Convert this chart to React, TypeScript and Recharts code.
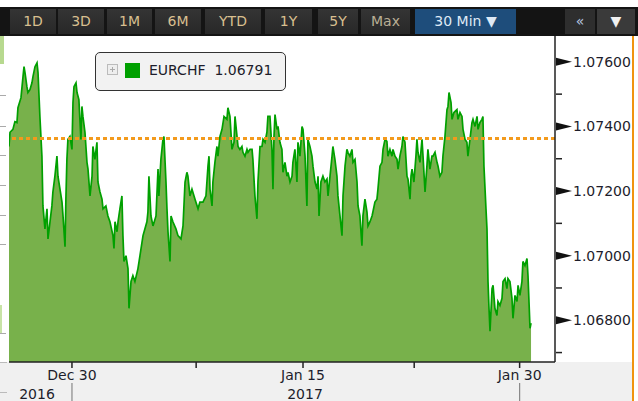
import React from "react";
import { ComposedChart, Area, XAxis, YAxis, ReferenceLine } from "recharts";

// Days since Dec 30 2016 00:00 (30-min EURCHF, sampled)
const dayOffset = [
  -4.36, -4.29, -4.09, -3.95, -3.81, -3.74, -3.53, -3.39, -3.32, -3.25, -3.12, -3.05, -2.91, -2.77, -2.7, -2.56, -2.42, -2.35,
  -2.22, -2.08, -2.01, -1.87, -1.73, -1.66, -1.52, -1.39, -1.32, -1.18, -1.04, -0.97, -0.83, -0.69, -0.62, -0.48, -0.42, -0.35,
  -0.28, -0.14, 0, 0.07, 0.14, 0.28, 0.35, 0.48, 0.62, 0.69, 0.76, 0.9, 1.04, 1.11, 1.25, 1.39, 1.45, 1.59, 1.73, 1.8, 1.94,
  2.08, 2.15, 2.35, 2.49, 2.63, 2.84, 2.91, 2.98, 3.12, 3.19, 3.32, 3.46, 3.53, 3.6, 3.74, 3.88, 3.95, 4.09, 4.22, 4.36, 4.57,
  4.71, 4.92, 5.19, 5.26, 5.33, 5.47, 5.61, 5.82, 5.96, 6.02, 6.16, 6.3, 6.37, 6.51, 6.58, 6.65, 6.79, 6.86, 6.99, 7.2, 7.34,
  7.55, 7.69, 7.83, 7.96, 8.03, 8.17, 8.31, 8.52, 8.73, 8.86, 9.07, 9.28, 9.42, 9.49, 9.56, 9.7, 9.76, 9.9, 10.04, 10.11,
  10.25, 10.39, 10.53, 10.73, 10.8, 10.94, 11.01, 11.08, 11.22, 11.29, 11.43, 11.5, 11.63, 11.77, 11.84, 11.98, 12.12, 12.19,
  12.33, 12.47, 12.53, 12.67, 12.81, 12.88, 13.02, 13.16, 13.23, 13.37, 13.5, 13.57, 13.71, 13.85, 13.92, 13.99, 14.06, 14.2,
  14.27, 14.4, 14.54, 14.61, 14.75, 14.89, 14.96, 15.1, 15.24, 15.3, 15.44, 15.58, 15.65, 15.79, 15.93, 16.0, 16.14, 16.27,
  16.34, 16.48, 16.62, 16.69, 16.83, 16.97, 17.04, 17.11, 17.24, 17.38, 17.52, 17.66, 17.73, 17.87, 18.01, 18.07, 18.21,
  18.35, 18.42, 18.56, 18.7, 18.77, 18.91, 19.04, 19.11, 19.25, 19.39, 19.46, 19.6, 19.74, 19.81, 19.94, 20.08, 20.15, 20.29,
  20.43, 20.5, 20.64, 20.78, 20.84, 20.98, 21.12, 21.19, 21.33, 21.47, 21.54, 21.68, 21.81, 21.88, 22.02, 22.16, 22.23,
  22.37, 22.51, 22.58, 22.71, 22.85, 22.92, 23.06, 23.2, 23.27, 23.41, 23.48, 23.55, 23.68, 23.82, 23.89, 23.96, 24.1, 24.24,
  24.31, 24.45, 24.58, 24.65, 24.79, 24.93, 25.0, 25.14, 25.28, 25.35, 25.48, 25.62, 25.69, 25.83, 25.97, 26.04, 26.11,
  26.25, 26.32, 26.45, 26.66, 26.73, 26.87, 27.01, 27.08, 27.22, 27.35, 27.42, 27.56, 27.7, 27.77, 27.91, 28.05, 28.12,
  28.25, 28.39, 28.46, 28.53, 28.67, 28.74, 28.81, 28.88, 28.95, 29.09, 29.16, 29.29, 29.43, 29.5, 29.64, 29.78, 29.85,
  29.99, 30.12, 30.19, 30.33, 30.47, 30.54, 30.68, 30.82, 30.89, 31.02, 31.16, 31.23, 31.37, 31.51, 31.58, 31.72, 31.79,
];

const eurchf = [
  1.07338, 1.07382, 1.07391, 1.07415, 1.07412, 1.07458, 1.07489, 1.07554, 1.07585, 1.07566, 1.07523, 1.07505, 1.07514,
  1.07535, 1.07554, 1.07585, 1.07597, 1.07566, 1.07431, 1.07308, 1.07154, 1.07083, 1.07145, 1.07052, 1.07105, 1.07154,
  1.07197, 1.07246, 1.07308, 1.07246, 1.07206, 1.07166, 1.07123, 1.07028, 1.07175, 1.07298, 1.0736, 1.07369, 1.07329,
  1.07474, 1.07523, 1.07535, 1.07505, 1.07483, 1.0736, 1.07462, 1.07431, 1.07382, 1.07289, 1.07268, 1.07185, 1.07246,
  1.07338, 1.07298, 1.07351, 1.07228, 1.07197, 1.07175, 1.07145, 1.07154, 1.07123, 1.07105, 1.07062, 1.07022, 1.07105,
  1.07074, 1.07105, 1.07145, 1.07185, 1.07062, 1.06982, 1.07, 1.0696, 1.06837, 1.0692, 1.06938, 1.0692, 1.0696, 1.07,
  1.07062, 1.07105, 1.07135, 1.07246, 1.07123, 1.07092, 1.07123, 1.07268, 1.07185, 1.07298, 1.0736, 1.07369, 1.07228,
  1.07145, 1.07074, 1.06982, 1.07123, 1.07105, 1.07083, 1.07062, 1.07052, 1.07092, 1.07228, 1.07258, 1.07246, 1.07185,
  1.07206, 1.07175, 1.07145, 1.07166, 1.07166, 1.07185, 1.07277, 1.07308, 1.07206, 1.07154, 1.07228, 1.07289, 1.07338,
  1.07308, 1.07369, 1.07391, 1.07431, 1.07422, 1.07458, 1.07431, 1.07382, 1.07329, 1.07351, 1.07431, 1.07369, 1.07338,
  1.07329, 1.07338, 1.0732, 1.07308, 1.07329, 1.0732, 1.07329, 1.07329, 1.07298, 1.07185, 1.07114, 1.07228, 1.07338,
  1.07338, 1.0736, 1.07351, 1.07382, 1.07431, 1.07431, 1.07329, 1.07206, 1.07369, 1.07437, 1.07391, 1.074, 1.07351,
  1.07329, 1.07258, 1.07289, 1.07246, 1.07258, 1.07228, 1.07246, 1.07289, 1.07329, 1.07228, 1.07351, 1.07308, 1.074,
  1.07391, 1.07308, 1.07154, 1.0736, 1.07338, 1.07308, 1.07277, 1.07228, 1.07206, 1.07246, 1.07123, 1.07228, 1.07246,
  1.07228, 1.07237, 1.07185, 1.07246, 1.07308, 1.07338, 1.07298, 1.07246, 1.07185, 1.07123, 1.07062, 1.07185, 1.07277,
  1.07329, 1.0732, 1.07308, 1.07329, 1.07289, 1.07298, 1.07228, 1.07154, 1.07123, 1.07031, 1.07123, 1.07175, 1.07135,
  1.07092, 1.07105, 1.07123, 1.07135, 1.07166, 1.07175, 1.07206, 1.07277, 1.07289, 1.07329, 1.0736, 1.07354, 1.07308,
  1.07329, 1.07308, 1.07329, 1.07308, 1.07298, 1.07268, 1.07308, 1.07338, 1.07369, 1.07351, 1.07246, 1.07237, 1.07175,
  1.07246, 1.07268, 1.07228, 1.07308, 1.0736, 1.0732, 1.07289, 1.0736, 1.07308, 1.07197, 1.07277, 1.07329, 1.07268,
  1.07308, 1.07308, 1.0732, 1.07289, 1.07277, 1.07246, 1.07258, 1.07308, 1.07369, 1.07452, 1.07462, 1.07505, 1.07474,
  1.07422, 1.07443, 1.07452, 1.07422, 1.07443, 1.07431, 1.07391, 1.0736, 1.07351, 1.07308, 1.0736, 1.07412, 1.07422,
  1.074, 1.07431, 1.07391, 1.07412, 1.07422, 1.07431, 1.07277, 1.07145, 1.07083, 1.0692, 1.06837, 1.06766, 1.06898,
  1.06908, 1.06837, 1.06815, 1.06858, 1.06846, 1.06868, 1.0692, 1.06929, 1.06898, 1.06929, 1.0692, 1.06868, 1.06806,
  1.06877, 1.06858, 1.06908, 1.06877, 1.0692, 1.06982, 1.06969, 1.06991, 1.06938, 1.06775, 1.06791,
];

const dateTickDays = [0, 8.6, 16, 23.7, 31];
const dateTickLabels = ["Dec 30", "", "Jan 15", "", "Jan 30"];
const yearLabelDays = [-2.42, 16.14];
const yearLabels = ["2016", "2017"];
const yearBreakDays = [0, 31];
const priceTicks = [1.067, 1.068, 1.069, 1.07, 1.071, 1.072, 1.073, 1.074, 1.075, 1.076];
const referencePrice = 1.07363;
const lastPrice = "1.06791";
const seriesName = "EURCHF";
const rangeButtons = ["1D", "3D", "1M", "6M", "YTD", "1Y", "5Y", "Max"];

const data = dayOffset.map((d, i) => ({ day: d, rate: eurchf[i] }));

const FONT = "'DejaVu Sans', Verdana, sans-serif";
const TXT = "#1d1d2b";

const YTick = (props: any) => {
  const { x, y, payload } = props;
  const v = payload.value as number;
  const major = Math.round(v * 1000) % 2 === 0;
  if (!major) {
    return <line x1={x + 1} x2={x + 7} y1={y} y2={y} stroke="#222" strokeWidth={1.5} />;
  }
  return (
    <g>
      <polygon points={`${x + 1},${y - 4} ${x + 1},${y + 4} ${x + 17},${y}`} fill="#111" />
      <text x={x + 18} y={y + 5} fontSize={14} fontFamily={FONT} fill={TXT}>
        {v.toFixed(5)}
      </text>
    </g>
  );
};

const XTick = (props: any) => {
  const { x, y, payload, index } = props;
  const idx = dateTickDays.indexOf(payload.value);
  const label = idx >= 0 ? dateTickLabels[idx] : "";
  return (
    <g>
      <line x1={x} x2={x} y1={y} y2={y + 6} stroke="#222" strokeWidth={1.5} />
      {label ? (
        <text x={x} y={y + 18} fontSize={14} fontFamily={FONT} fill={TXT} textAnchor="middle">
          {label}
        </text>
      ) : null}
    </g>
  );
};

const YearTick = (props: any) => {
  const { x, y, payload } = props;
  const li = yearLabelDays.indexOf(payload.value);
  if (li >= 0) {
    return (
      <text x={x} y={y + 17} fontSize={14} fontFamily={FONT} fill={TXT} textAnchor="middle">
        {yearLabels[li]}
      </text>
    );
  }
  return <line x1={x} x2={x} y1={y + 1} y2={y + 20} stroke="#888" strokeWidth={1.2} />;
};

const btnPos = [
  [10, 56],
  [58, 104],
  [107, 152],
  [155, 201],
  [205, 261],
  [265, 312],
  [318, 358],
  [361, 410],
];

export default function App() {
  return (
    <div
      style={{
        position: "absolute",
        left: 0,
        top: 0,
        width: 638,
        height: 401,
        overflow: "hidden",
        background: "#fff",
        fontFamily: FONT,
      }}
    >
      {/* bottom axis band */}
      <div style={{ position: "absolute", left: 0, top: 362, width: 633, height: 39, background: "#f0f0f0" }} />
      {/* left edge remnants */}
      <div style={{ position: "absolute", left: 0, top: 33, width: 4, height: 31, background: "#b7d98f" }} />
      <div style={{ position: "absolute", left: 0, top: 305, width: 2, height: 28, background: "#c8e3a6" }} />
      {[95, 126, 155, 185, 215, 244, 333].map((t) => (
        <div key={t} style={{ position: "absolute", left: 0, top: t, width: 6, height: 1, background: "#aaa" }} />
      ))}
      {[362, 392].map((t) => (
        <div key={t} style={{ position: "absolute", left: 0, top: t, width: 7, height: 1, background: "#bbb" }} />
      ))}

      <div style={{ position: "absolute", left: 0, top: 0 }}>
        <ComposedChart width={638} height={401} data={data} margin={{ top: 36, right: 5, bottom: 0, left: 9 }}>
          <XAxis
            dataKey="day"
            type="number"
            domain={[-4.36, 33.45]}
            ticks={dateTickDays}
            interval={0}
            height={20}
            tickSize={0}
            tickMargin={0}
            axisLine={{ stroke: "#222", strokeWidth: 1.5 }}
            tickLine={false}
            tick={(p: any) => <XTick {...p} />}
            allowDataOverflow
          />
          <XAxis
            xAxisId="yr"
            dataKey="day"
            type="number"
            domain={[-4.36, 33.45]}
            ticks={[...yearLabelDays, ...yearBreakDays]}
            interval={0}
            height={19}
            tickSize={0}
            tickMargin={0}
            axisLine={false}
            tickLine={false}
            tick={(p: any) => <YearTick {...p} />}
            allowDataOverflow
          />
          <YAxis
            orientation="right"
            type="number"
            domain={[1.066708, 1.0768]}
            ticks={priceTicks}
            interval={0}
            width={78}
            tickSize={0}
            tickMargin={0}
            axisLine={{ stroke: "#222", strokeWidth: 1.5 }}
            tickLine={false}
            tick={(p: any) => <YTick {...p} />}
            allowDataOverflow
          />
          <Area
            dataKey="rate"
            type="linear"
            stroke="#00a000"
            strokeWidth={1.7}
            fill="#78b14b"
            fillOpacity={1}
            dot={false}
            activeDot={false}
            isAnimationActive={false}
          />
          <ReferenceLine y={referencePrice} stroke="#f39a1c" strokeWidth={3} strokeDasharray="4 3" />
        </ComposedChart>
      </div>

      {/* orange right border */}
      <div style={{ position: "absolute", left: 632, top: 36, width: 2, height: 365, background: "#f0940f" }} />

      {/* toolbar */}
      <div style={{ position: "absolute", left: 0, top: 7, width: 638, height: 29, background: "#141414" }} />
      {rangeButtons.map((b, i) => (
        <div
          key={b}
          style={{
            position: "absolute",
            left: btnPos[i][0],
            top: 9,
            width: btnPos[i][1] - btnPos[i][0],
            height: 25,
            background: "linear-gradient(#343434,#282828)",
            color: b === "Max" ? "#b9ae95" : "#d8bf8f",
            fontSize: 14,
            lineHeight: "25px",
            textAlign: "center",
          }}
        >
          {b}
        </div>
      ))}
      <div
        style={{
          position: "absolute",
          left: 415,
          top: 9,
          width: 101,
          height: 25,
          background: "#1e4d7b",
          color: "#dfe9f5",
          fontSize: 14,
          lineHeight: "25px",
          textAlign: "center",
        }}
      >
        30 Min ▼
      </div>
      <div
        style={{
          position: "absolute",
          left: 565,
          top: 9,
          width: 30,
          height: 25,
          background: "#2e2e2e",
          color: "#b8c8e0",
          fontSize: 14,
          lineHeight: "25px",
          textAlign: "center",
        }}
      >
        «
      </div>
      <div
        style={{
          position: "absolute",
          left: 597,
          top: 9,
          width: 38,
          height: 25,
          background: "#3a3a3a",
          color: "#f0f0f0",
          fontSize: 14,
          lineHeight: "25px",
          textAlign: "center",
        }}
      >
        ▼
      </div>

      {/* legend */}
      <div
        style={{
          position: "absolute",
          left: 95,
          top: 52,
          width: 189,
          height: 37,
          border: "1.5px solid #333",
          borderRadius: 5,
          background: "#f2f2f2",
        }}
      >
        <svg style={{ position: "absolute", left: 11, top: 11 }} width={12} height={12}>
          <rect x={0.5} y={0.5} width={10} height={10} fill="#eee" stroke="#bbb" />
          <line x1={3} x2={8} y1={5.5} y2={5.5} stroke="#aaa" />
          <line x1={5.5} x2={5.5} y1={3} y2={8} stroke="#aaa" />
        </svg>
        <div style={{ position: "absolute", left: 29, top: 10, width: 15, height: 15, background: "#00a000" }} />
        <div
          style={{
            position: "absolute",
            left: 53,
            top: 9,
            fontSize: 14,
            color: TXT,
            whiteSpace: "nowrap",
            lineHeight: "17px",
          }}
        >
          {seriesName}&nbsp;&nbsp;{lastPrice}
        </div>
      </div>
    </div>
  );
}
